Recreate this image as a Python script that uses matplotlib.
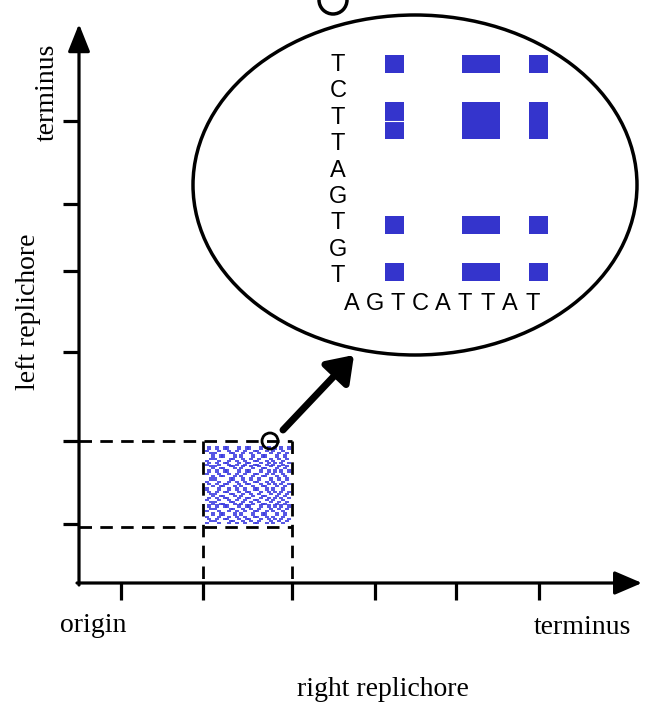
import matplotlib
matplotlib.use("Agg")
import matplotlib.pyplot as plt
from matplotlib.patches import Ellipse, Circle, Rectangle

# inset dot matrix: sequences along x (left to right) and y (top to bottom)
inset_x_seq = "AGTCATTAT"
inset_y_seq = "TCTTAGTGT"
inset_shown = "T"

# segment compared in the dashed square (dot plot texture)
seg_x_seq = "ATGCGTACCTTAGGCATCGATTGCAAGTCCATGATCGTACGT"
seg_y_seq = "TTAGCCGATAGCTTACGGATCAATGCTAGCTTGACCATGA"

# axis ticks (pixel positions on the sketch)
xticks = [121, 203, 292, 375, 456, 539]
yticks = [121, 204, 271, 352, 441, 524]

blue = "#3434cc"

fig = plt.figure(figsize=(6.47, 7.09), dpi=100)
ax = fig.add_axes([0, 0, 1, 1])
ax.set_xlim(0, 647)
ax.set_ylim(709, 0)
ax.set_axis_off()

# axes with arrow heads
ax.annotate("", xy=(79, 24), xytext=(79, 585),
            arrowprops=dict(arrowstyle="-|>,head_length=0.7,head_width=0.28",
                            lw=2.3, color="k", mutation_scale=24, shrinkA=0, shrinkB=0))
ax.annotate("", xy=(642, 583), xytext=(77, 583),
            arrowprops=dict(arrowstyle="-|>,head_length=0.7,head_width=0.3",
                            lw=2.3, color="k", mutation_scale=24, shrinkA=0, shrinkB=0))
for y in yticks:
    ax.plot([63, 79], [y, y], color="k", lw=2.3, solid_capstyle="butt")
for x in xticks:
    ax.plot([x, x], [583, 600], color="k", lw=2.3, solid_capstyle="butt")

# dashed selection square
sq_x0, sq_x1 = xticks[1], xticks[2]
sq_y0, sq_y1 = yticks[4], 527
for y in (sq_y0, sq_y1):
    ax.plot([79, sq_x1], [y, y], color="k", lw=2, dashes=[4.5, 3])
for x in (sq_x0, sq_x1):
    ax.plot([x, x], [sq_y0, 600], color="k", lw=2, dashes=[4.5, 3])

# dot plot texture inside the square
px, py = [], []
nx, ny = len(seg_x_seq), len(seg_y_seq)
for i, a in enumerate(seg_y_seq):
    for j, b in enumerate(seg_x_seq):
        if a == b:
            px.append(207 + j * (82 / (nx - 1)))
            py.append(447 + i * (76 / (ny - 1)))
dash = [(-1, -0.35), (1, -0.35), (1, 0.35), (-1, 0.35)]
ax.scatter(px, py, marker=dash, s=5, color="#3a3ae0", alpha=0.85, linewidths=0)

# zoom circle and arrow
ax.add_patch(Circle((270, 441), 8, fill=False, lw=2, color="k"))
ax.annotate("", xy=(354, 355), xytext=(283, 430),
            arrowprops=dict(arrowstyle="-|>,head_length=0.5,head_width=0.35",
                            lw=5, color="k", mutation_scale=30, shrinkA=0, shrinkB=0))

# magnified ellipse
ax.add_patch(Ellipse((415, 185), 444, 340, fill=False, lw=2.5, color="k"))
ax.add_patch(Circle((333, 0), 14, fill=False, lw=2.5, color="k"))

# inset matrix cell centres (hand-drawn spacing)
cx = [347, 370, 394.5, 418, 448, 471.5, 490.5, 514, 538.5]
cy = [64, 88, 111, 130, 160, 190, 225, 250, 272]
cw, ch = 19, 18.5

def hit(i, j):
    if i < 0 or j < 0 or i >= len(inset_y_seq) or j >= len(inset_x_seq):
        return False
    return inset_y_seq[i] == inset_x_seq[j] and inset_y_seq[i] in inset_shown

for i in range(len(inset_y_seq)):
    for j in range(len(inset_x_seq)):
        if hit(i, j):
            left = (cx[j - 1] + cx[j]) / 2 if hit(i, j - 1) else cx[j] - cw / 2
            right = (cx[j] + cx[j + 1]) / 2 if hit(i, j + 1) else cx[j] + cw / 2
            top = (cy[i - 1] + cy[i]) / 2 if hit(i - 1, j) else cy[i] - ch / 2
            bot = (cy[i] + cy[i + 1]) / 2 if hit(i + 1, j) else cy[i] + ch / 2
            ax.add_patch(Rectangle((left, top), right - left, bot - top,
                                   color=blue, lw=0))
# thin light seam in the first column block
ax.plot([cx[2] - cw / 2, cx[2] + cw / 2], [120.5, 120.5], color="white", lw=0.8)

for j, c in enumerate(inset_x_seq):
    ax.text(352 + 22.6 * j, 304, c, ha="center", va="center",
            fontsize=17, family="Liberation Sans")
for i, c in enumerate(inset_y_seq):
    ax.text(338, 65 + 26.4 * i, c, ha="center", va="center",
            fontsize=17, family="Liberation Sans")

# labels
serif = dict(family="Liberation Serif", fontsize=20, ha="center", va="center")
ax.text(47, 92, "terminus", rotation=90, **serif)
ax.text(29, 312, "left replichore", rotation=90, **serif)
ax.text(93, 626, "origin", **serif)
ax.text(582, 628, "terminus", **serif)
ax.text(383, 690, "right replichore", **serif)

fig.savefig("out.png", dpi=100)
